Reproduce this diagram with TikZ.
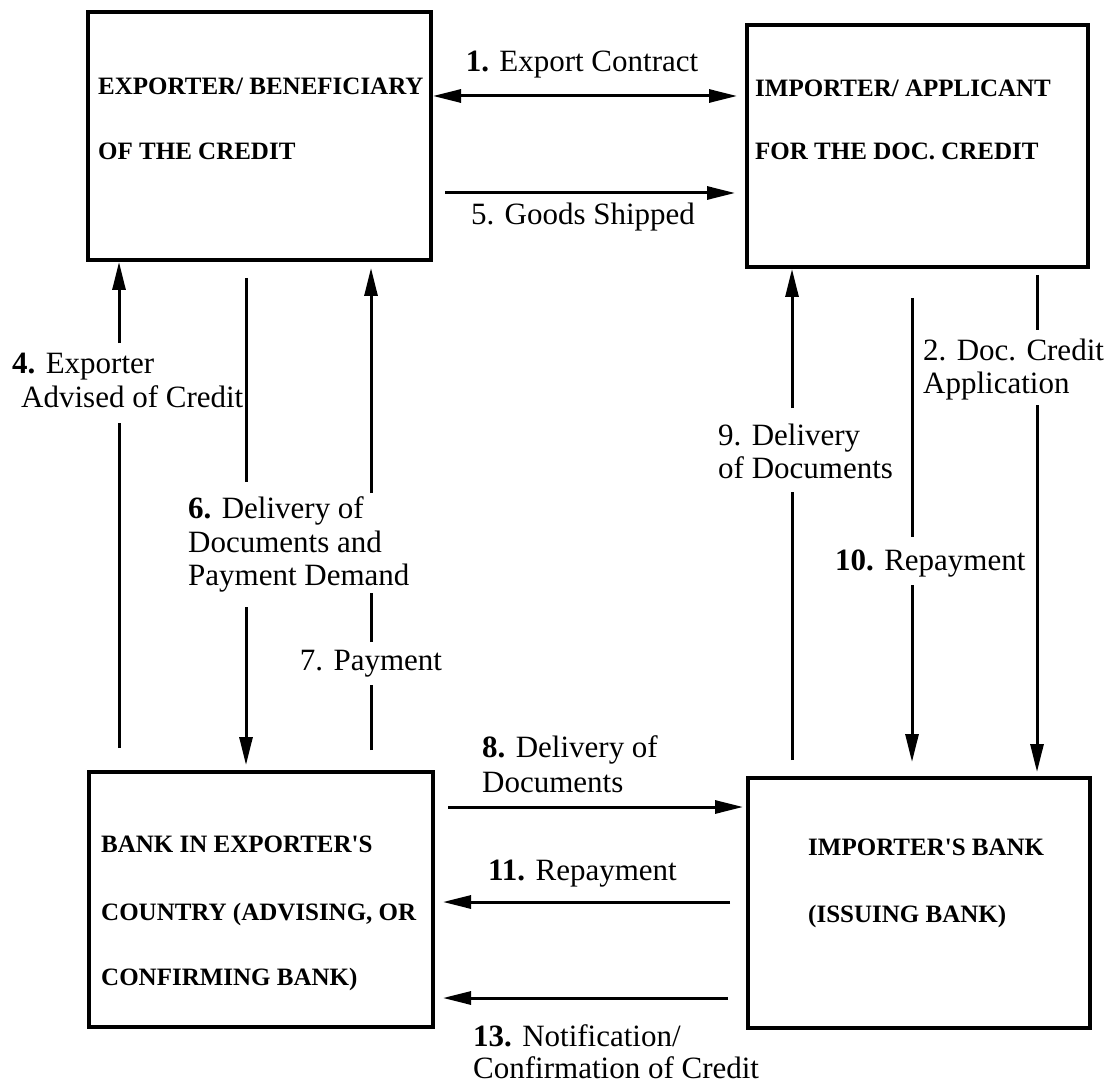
\documentclass[tikz,border=0pt]{standalone}
\usepackage{fontspec}
\setmainfont{Liberation Serif}
\usetikzlibrary{arrows.meta}
\begin{document}
\begin{tikzpicture}[x=1pt,y=-1pt,
  boxst/.style={draw, line width=4.5pt, inner sep=0pt, outer sep=0pt},
  btext/.style={anchor=base west, inner sep=0pt, font=\fontsize{25}{25}\selectfont\bfseries},
  lbl/.style={anchor=base west, inner sep=0pt, font=\fontsize{31}{31}\selectfont},
  lblc/.style={anchor=base, inner sep=0pt, font=\fontsize{31}{31}\selectfont},
  conn/.style={line width=3pt},
  arr/.style={conn, -{Triangle[length=28pt,width=13pt]}},
  darr/.style={conn, {Triangle[length=28pt,width=13pt]}-{Triangle[length=28pt,width=13pt]}},
]
\useasboundingbox (0,0) rectangle (1112,1086);

% boxes
\node[boxst, minimum width=343pt, minimum height=248pt] (exporter) at (259.25,136) {};
\node[boxst, minimum width=341pt, minimum height=242pt] (importer) at (917.5,146) {};
\node[boxst, minimum width=344pt, minimum height=255pt] (expbank) at (261,899.5) {};
\node[boxst, minimum width=342pt, minimum height=250pt] (impbank) at (919,903) {};

% box texts
\node[btext] (t1a) at (98,95) {EXPORTER/ BENEFICIARY};
\node[btext] (t1b) at (98,160) {OF THE CREDIT};
\node[btext] (t2a) at (755,97) {IMPORTER/ APPLICANT};
\node[btext] (t2b) at (755,160) {FOR THE DOC. CREDIT};
\node[btext] (t3a) at (101,852) {BANK IN EXPORTER\textquotesingle S};
\node[btext] (t3b) at (101,920) {COUNTRY (ADVISING, OR};
\node[btext] (t3c) at (101,985) {CONFIRMING BANK)};
\node[btext] (t4a) at (808,855) {IMPORTER\textquotesingle S BANK};
\node[btext] (t4b) at (808,922) {(ISSUING BANK)};

% labels
\node[lblc] (l1) at (582,72) {\textbf{1.} Export Contract};
\node[lblc] (l5) at (583,225) {5. Goods Shipped};
\node[lbl] (l4a) at (12,373) {\textbf{4.} Exporter};
\node[lbl] (l4b) at (21,407) {Advised of Credit};
\node[lbl] (l6a) at (188,518) {\textbf{6.} Delivery of};
\node[lbl] (l6b) at (188,552) {Documents and};
\node[lbl] (l6c) at (188,585) {Payment Demand};
\node[lblc] (l7) at (371,670) {7. Payment};
\node[lbl] (l9a) at (718,445) {9. Delivery};
\node[lbl] (l9b) at (718,478) {of Documents};
\node[lbl] (l2a) at (923,360) {2. Doc. Credit};
\node[lbl] (l2b) at (923,393) {Application};
\node[lbl] (l10) at (835,570) {\textbf{10.} Repayment};
\node[lbl] (l8a) at (482,757) {\textbf{8.} Delivery of};
\node[lbl] (l8b) at (482,792) {Documents};
\node[lbl] (l11) at (488,880) {\textbf{11.} Repayment};
\node[lbl] (l13a) at (473,1046) {\textbf{13.} Notification/};
\node[lbl] (l13b) at (473,1078) {Confirmation of Credit};

% connector end points
\coordinate (a1s) at (433,96);   \coordinate (a1e) at (737,96);
\coordinate (a5s) at (445,193);  \coordinate (a5e) at (735,193);
\coordinate (a4a) at (119,748);  \coordinate (a4b) at (119,423);
\coordinate (a4c) at (119,343);  \coordinate (a4d) at (119,262);
\coordinate (a6a) at (246,278);  \coordinate (a6b) at (246,482);
\coordinate (a6c) at (246,607);  \coordinate (a6d) at (246,765);
\coordinate (a7a) at (371,750);  \coordinate (a7b) at (371,685);
\coordinate (a7c) at (371,642);  \coordinate (a7d) at (371,593);
\coordinate (a7e) at (371,493);  \coordinate (a7f) at (371,268);
\coordinate (a9a) at (792,760);  \coordinate (a9b) at (792,492);
\coordinate (a9c) at (792,408);  \coordinate (a9d) at (792,269);
\coordinate (a10a) at (912,298); \coordinate (a10b) at (912,537);
\coordinate (a10c) at (912,585); \coordinate (a10d) at (912,762);
\coordinate (a2a) at (1037,275); \coordinate (a2b) at (1037,330);
\coordinate (a2c) at (1037,405); \coordinate (a2d) at (1037,772);
\coordinate (a8s) at (448,807);  \coordinate (a8e) at (743,807);
\coordinate (a11s) at (730,902); \coordinate (a11e) at (443,902);
\coordinate (a13s) at (728,998); \coordinate (a13e) at (443,998);

% connectors
\draw[darr] (a1s) -- (a1e);
\draw[arr] (a5s) -- (a5e);
\draw[conn] (a4a) -- (a4b);
\draw[arr] (a4c) -- (a4d);
\draw[conn] (a6a) -- (a6b);
\draw[arr] (a6c) -- (a6d);
\draw[conn] (a7a) -- (a7b);
\draw[conn] (a7c) -- (a7d);
\draw[arr] (a7e) -- (a7f);
\draw[conn] (a9a) -- (a9b);
\draw[arr] (a9c) -- (a9d);
\draw[conn] (a10a) -- (a10b);
\draw[arr] (a10c) -- (a10d);
\draw[conn] (a2a) -- (a2b);
\draw[arr] (a2c) -- (a2d);
\draw[arr] (a8s) -- (a8e);
\draw[arr] (a11s) -- (a11e);
\draw[arr] (a13s) -- (a13e);
\end{tikzpicture}
\end{document}
